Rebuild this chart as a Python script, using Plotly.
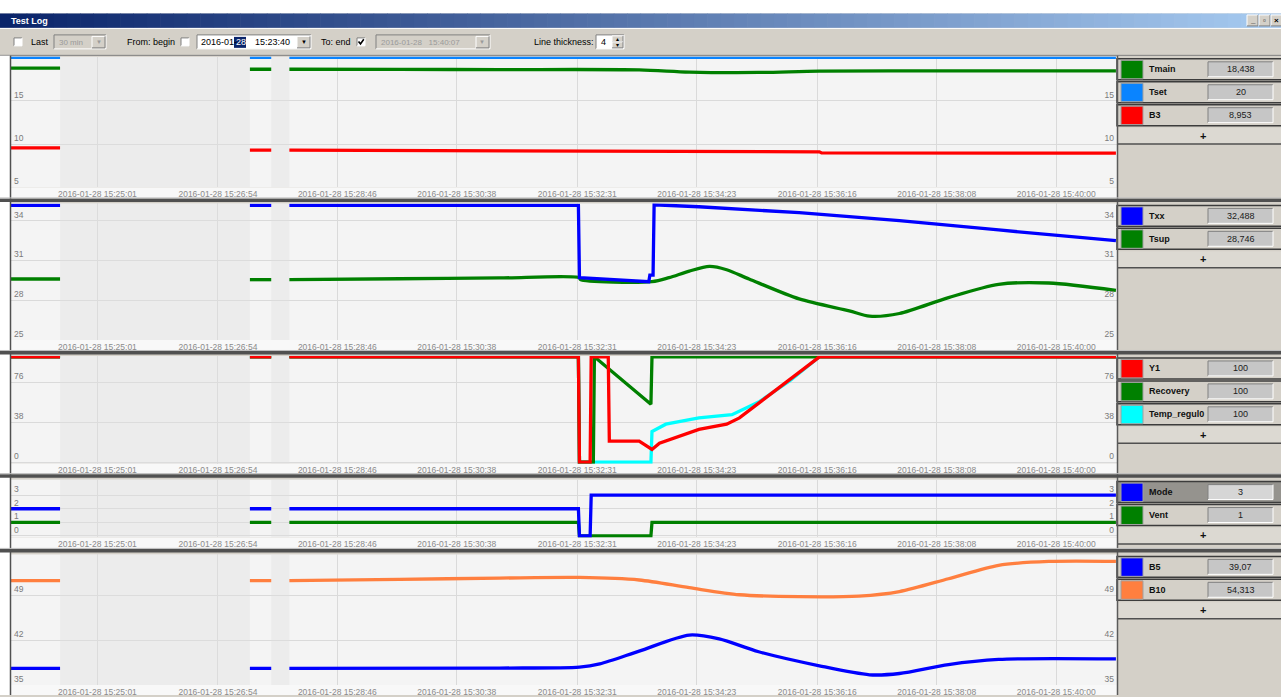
import plotly.graph_objects as go

W, H = 1281, 697
DAY = "2016-01-28 "
UI_FONT = "Liberation Sans"

# ---------------- time axis ----------------
X_RANGE = ["15:23:40", "15:40:57"]
TICK_TIMES = ["15:25:01", "15:26:54", "15:28:46", "15:30:38", "15:32:31",
              "15:34:23", "15:36:16", "15:38:08", "15:40:00"]
# intervals without samples
GAP_SPANS = [("15:24:26", "15:27:24"), ("15:27:44", "15:28:01")]

# ---------------- panel 1 ----------------
tmain_t = ["15:23:40", "15:24:26", "15:25:00", "15:27:24", "15:27:44", "15:27:50",
           "15:28:01", "15:29:44", "15:31:18", "15:33:29", "15:34:16", "15:35:21",
           "15:36:18", "15:38:19", "15:40:56"]
tmain_v = [18.75, 18.75, None, 18.62, 18.62, None,
           18.62, 18.60, 18.58, 18.55, 18.30, 18.25,
           18.40, 18.43, 18.438]

tset_t = ["15:23:40", "15:24:26", "15:25:00", "15:27:24", "15:27:44", "15:27:50",
          "15:28:01", "15:40:56"]
tset_v = [20, 20, None, 20, 20, None, 20, 20]

b3_t = ["15:23:40", "15:24:26", "15:25:00", "15:27:24", "15:27:44", "15:27:50",
        "15:28:01", "15:31:18", "15:33:29", "15:36:18", "15:36:20", "15:40:56"]
b3_v = [9.55, 9.55, None, 9.30, 9.30, None,
        9.30, 9.25, 9.20, 9.10, 8.98, 8.953]

# ---------------- panel 2 ----------------
txx_t = ["15:23:40", "15:24:26", "15:25:00", "15:27:24", "15:27:44", "15:27:50",
         "15:28:01", "15:32:32", "15:32:33", "15:33:38", "15:33:39", "15:33:42",
         "15:33:43", "15:34:25", "15:35:59", "15:37:33", "15:39:06", "15:40:56"]
txx_v = [35.15, 35.15, None, 35.15, 35.15, None,
         35.15, 35.15, 29.70, 29.40, 29.90, 29.90,
         35.20, 35.05, 34.60, 34.00, 33.30, 32.488]

tsup_t = ["15:23:40", "15:24:26", "15:25:00", "15:27:24", "15:27:44", "15:27:50",
          "15:28:01", "15:29:44", "15:31:18", "15:32:33", "15:32:34", "15:33:41",
          "15:33:57", "15:34:16", "15:34:35", "15:34:51", "15:35:12", "15:35:59",
          "15:36:46", "15:37:05", "15:37:33", "15:38:19", "15:39:06", "15:39:53",
          "15:40:56"]
tsup_v = [29.60, 29.60, None, 29.55, 29.55, None,
          29.55, 29.62, 29.68, 29.70, 29.55, 29.40,
          29.70, 30.20, 30.55, 30.30, 29.60, 28.10,
          27.20, 26.80, 27.00, 28.20, 29.20, 29.30,
          28.746]

# ---------------- panel 3 ----------------
y1_t = ["15:23:40", "15:24:26", "15:25:00", "15:27:24", "15:27:44", "15:27:50",
        "15:28:01", "15:32:32", "15:32:33", "15:32:43", "15:32:44", "15:33:00",
        "15:33:01", "15:33:29", "15:33:41", "15:33:48", "15:34:25", "15:34:51",
        "15:35:03", "15:35:50", "15:36:18", "15:40:56"]
y1_v = [100, 100, None, 100, 100, None,
        100, 100, 0, 0, 100, 100,
        20, 20, 12, 18, 31, 36,
        42, 78, 100, 100]

recovery_t = ["15:23:40", "15:24:26", "15:25:00", "15:27:24", "15:27:44", "15:27:50",
              "15:28:01", "15:32:32", "15:32:33", "15:32:46", "15:32:47", "15:33:40",
              "15:33:41", "15:40:56"]
recovery_v = [100, 100, None, 100, 100, None,
              100, 100, 0, 0, 100, 55,
              100, 100]

tempreg_t = ["15:23:40", "15:24:26", "15:25:00", "15:27:24", "15:27:44", "15:27:50",
             "15:28:01", "15:32:32", "15:32:33", "15:33:40", "15:33:41", "15:33:54",
             "15:34:25", "15:34:56", "15:35:21", "15:35:50", "15:36:18", "15:40:56"]
tempreg_v = [100, 100, None, 100, 100, None,
             100, 100, 0, 0, 29, 36,
             42, 45, 57, 77, 100, 100]

# ---------------- panel 4 ----------------
mode_t = ["15:23:40", "15:24:26", "15:25:00", "15:27:24", "15:27:44", "15:27:50",
          "15:28:01", "15:32:32", "15:32:33", "15:32:43", "15:32:44", "15:40:56"]
mode_v = [2, 2, None, 2, 2, None,
          2, 2, 0, 0, 3, 3]

vent_t = ["15:23:40", "15:24:26", "15:25:00", "15:27:24", "15:27:44", "15:27:50",
          "15:28:01", "15:32:32", "15:32:33", "15:33:40", "15:33:41", "15:40:56"]
vent_v = [1, 1, None, 1, 1, None,
          1, 1, 0, 0, 1, 1]

# ---------------- panel 5 ----------------
b5_t = ["15:23:40", "15:24:26", "15:25:00", "15:27:24", "15:27:44", "15:27:50",
        "15:28:01", "15:31:18", "15:32:33", "15:32:52", "15:33:29", "15:34:16",
        "15:34:44", "15:35:21", "15:36:18", "15:37:05", "15:37:33", "15:38:19",
        "15:39:06", "15:40:56"]
b5_v = [37.6, 37.6, None, 37.6, 37.6, None,
        37.6, 37.65, 37.8, 38.3, 40.3, 42.8,
        42.2, 40.2, 38.0, 36.6, 36.8, 38.2,
        39.0, 39.07]

b10_t = ["15:23:40", "15:24:26", "15:25:00", "15:27:24", "15:27:44", "15:27:50",
         "15:28:01", "15:29:44", "15:31:18", "15:32:33", "15:33:29", "15:34:16",
         "15:35:03", "15:35:59", "15:36:55", "15:37:33", "15:38:19", "15:39:06",
         "15:39:53", "15:40:56"]
b10_v = [51.3, 51.3, None, 51.3, 51.3, None,
         51.3, 51.5, 51.7, 51.8, 51.4, 50.2,
         49.1, 48.8, 48.9, 49.6, 51.6, 53.7,
         54.3, 54.313]

# ---------------- panel layout (pixel rows) ----------------
PANELS = [
    dict(top=57, bottom=188, strip=199, rng=[5, 20.05], ticks=[5, 10, 15],
         series=[("Tmain", "#008000", tmain_t, tmain_v),
                 ("Tset", "#0a84ff", tset_t, tset_v),
                 ("B3", "#ff0000", b3_t, b3_v)]),
    dict(top=204, bottom=341, strip=352, rng=[25, 35.3], ticks=[25, 28, 31, 34],
         series=[("Txx", "#0000ff", txx_t, txx_v),
                 ("Tsup", "#008000", tsup_t, tsup_v)]),
    dict(top=357, bottom=465, strip=475, rng=[-1.5, 100.8], ticks=[0, 38, 76],
         series=[("Y1", "#ff0000", y1_t, y1_v),
                 ("Recovery", "#008000", recovery_t, recovery_v),
                 ("Temp_regul0", "#00ffff", tempreg_t, tempreg_v)]),
    dict(top=481, bottom=539, strip=550, rng=[-0.12, 4.15], ticks=[0, 1, 2, 3],
         series=[("Mode", "#0000ff", mode_t, mode_v),
                 ("Vent", "#008000", vent_t, vent_v)], highlight="Mode"),
    dict(top=556, bottom=687, strip=697, rng=[35, 55.4], ticks=[35, 42, 49],
         series=[("B5", "#0000ff", b5_t, b5_v),
                 ("B10", "#ff7f3f", b10_t, b10_v)]),
]
# drawing order inside each panel (last on top)
DRAW_ORDER = [["Tmain", "Tset", "B3"], ["Tsup", "Txx"], ["Temp_regul0", "Recovery", "Y1"],
              ["Vent", "Mode"], ["B5", "B10"]]
# slowly varying signals are drawn as smooth curves
SMOOTH = {"Tmain", "Tsup", "B5", "B10"}

PLOT_X0, PLOT_X1 = 11, 1117


def ts(t):
    return DAY + t


def yy(y):
    return 1 - y / H


shapes, notes = [], []


def rect(x0, y0, x1, y1, fill, line=None, lw=1, layer="above"):
    shapes.append(dict(type="rect", xref="paper", yref="paper",
                       x0=x0 / W, x1=x1 / W, y0=yy(y1), y1=yy(y0),
                       fillcolor=fill, layer=layer,
                       line=dict(color=line if line else "rgba(0,0,0,0)",
                                 width=lw if line else 0)))


def seg(x0, y0, x1, y1, color, w=1):
    shapes.append(dict(type="line", xref="paper", yref="paper",
                       x0=x0 / W, x1=x1 / W, y0=yy(y0), y1=yy(y1),
                       line=dict(color=color, width=w), layer="above"))


def sunken(x0, y0, x1, y1, fill):
    rect(x0, y0, x1, y1, fill)
    seg(x0, y0, x1, y0, "#808080")
    seg(x0, y0, x0, y1, "#808080")
    seg(x0, y1, x1, y1, "#ffffff")
    seg(x1, y0, x1, y1, "#ffffff")


def raised(x0, y0, x1, y1, fill="#d4d0c8"):
    rect(x0, y0, x1, y1, fill)
    seg(x0, y0, x1, y0, "#ffffff")
    seg(x0, y0, x0, y1, "#ffffff")
    seg(x0, y1, x1, y1, "#808080")
    seg(x1, y0, x1, y1, "#808080")


def text(x, y, s, size=9, color="#000000", anchor="left", bold=False, family=UI_FONT):
    notes.append(dict(xref="paper", yref="paper", x=x / W, y=yy(y),
                      text=f"<b>{s}</b>" if bold else s, showarrow=False,
                      xanchor=anchor, yanchor="middle", borderpad=0,
                      font=dict(size=size, color=color, family=family)))


def fmt_value(v):
    s = f"{v:.3f}".rstrip("0").rstrip(".")
    return s.replace(".", ",")


fig = go.Figure()
layout = dict(width=W, height=H, margin=dict(l=0, r=0, t=0, b=0), autosize=False,
              paper_bgcolor="#d4d0c8", plot_bgcolor="#f4f4f4", showlegend=False,
              hovermode=False)

for i, p in enumerate(PANELS):
    n = i + 1
    xa, ya, yr = f"x{n}", f"y{n}", f"y{n + 5}"
    dom_y = [yy(p["bottom"]), yy(p["top"])]
    layout[f"xaxis{n}"] = dict(
        domain=[PLOT_X0 / W, PLOT_X1 / W], anchor=ya, type="date",
        range=[ts(X_RANGE[0]), ts(X_RANGE[1])],
        tickvals=[ts(t) for t in TICK_TIMES], tickformat="%Y-%m-%d %H:%M:%S",
        ticks="", showgrid=True, gridcolor="#dadada", gridwidth=1,
        zeroline=False, showline=False,
        tickfont=dict(size=8.5, color="#8a8a8a", family=UI_FONT),
        **({} if n == 1 else {"matches": "x"}))
    common_y = dict(range=p["rng"], tickvals=p["ticks"], ticks="",
                    zeroline=False, showline=False,
                    ticklabelposition="inside top",
                    tickfont=dict(size=8.5, color="#7a7a7a", family=UI_FONT))
    layout[f"yaxis{n}"] = dict(domain=dom_y, anchor=xa, showgrid=True,
                               gridcolor="#dadada", gridwidth=1, **common_y)
    layout[f"yaxis{n + 5}"] = dict(overlaying=ya, anchor=xa, side="right",
                                   showgrid=False, matches=ya, **common_y)

    # dotted no-data intervals
    hx, hy = [], []
    lo, hi = p["rng"]
    for a, b in GAP_SPANS:
        hx += [ts(a), ts(a), ts(b), ts(b), ts(a), None]
        hy += [lo, hi, hi, lo, lo, None]
    fig.add_trace(go.Scatter(x=hx, y=hy, xaxis=xa, yaxis=ya, mode="lines",
                             line=dict(width=0), fill="toself",
                             fillpattern=dict(shape=".", size=2, solidity=0.45,
                                              fgcolor="rgba(190,190,190,0.5)",
                                              bgcolor="rgba(232,232,232,0.3)"),
                             hoverinfo="skip"))

    by_name = {s[0]: s for s in p["series"]}
    order = DRAW_ORDER[i]
    for k, name in enumerate(order):
        _, color, t, v = by_name[name]
        on_right = (k == len(order) - 1)
        fig.add_trace(go.Scatter(x=[ts(x) for x in t], y=v, name=name,
                                 xaxis=xa, yaxis=yr if on_right else ya,
                                 mode="lines", connectgaps=False,
                                 line=dict(color=color, width=3.3,
                                           shape="spline" if name in SMOOTH else "linear",
                                           smoothing=0.8),
                                 hoverinfo="skip"))

    # label strip under the plot
    rect(PLOT_X0, p["bottom"], PLOT_X1, p["strip"], "#f8f8f8", layer="below")

    # legend block
    legend_top = p["top"] + 2
    for r, (name, color, t, v) in enumerate(p["series"]):
        r0 = legend_top + 23 * r
        r1 = r0 + 21
        hl = p.get("highlight") == name
        rect(1117, r0, 1283, r1, "#95938e" if hl else "#d4d0c8",
             line="#3c3c3c", lw=1.5)
        rect(1121, r0 + 1.5, 1143, r1 - 1, color, line="#a0a0a0", lw=1)
        text(1148, (r0 + r1) / 2, name, size=9, bold=True, color="#101010")
        sunken(1208, r0 + 3, 1273, r1 - 3, "#d6d6d6" if hl else "#c6c6c6")
        last = [x for x in v if x is not None][-1]
        text(1240.5, (r0 + r1) / 2, fmt_value(last), size=9, anchor="center",
             color="#202020")
    p0 = legend_top + 23 * len(p["series"])
    rect(1117, p0, 1283, p0 + 16, "#dcd9d2")
    seg(1117, p0 + 16.5, 1283, p0 + 16.5, "#505050", 1.5)
    text(1203, p0 + 8, "+", size=11, anchor="center", bold=True, color="#101010")

# ---------------- window chrome ----------------
rect(0, 0, W, 13.5, "#ffffff")
N = 96
c0, c1 = (10, 36, 106), (166, 202, 240)
for k in range(N):
    f = k / (N - 1)
    col = "rgb(%d,%d,%d)" % tuple(round(a + (b - a) * f) for a, b in zip(c0, c1))
    rect(k * W / N, 13.5, (k + 1) * W / N + 0.6, 28, col)
text(10, 21, "Test Log", size=9, color="#ffffff", bold=True)
for bx, glyph in [(1247, "_"), (1259, "\u25ab"), (1271, "\u00d7")]:
    raised(bx, 15, bx + 11, 26)
    text(bx + 5.5, 20.5, glyph, size=8, anchor="center", bold=True)

# toolbar
seg(0, 28.5, W, 28.5, "#ffffff")
seg(0, 55.5, W, 55.5, "#808080", 1)

sunken(14, 38, 22, 46, "#ffffff")
text(30, 42.5, "Last", size=9)
sunken(54, 35, 106, 49, "#d4d0c8")
text(58, 42.5, "30 min", size=8, color="#9a9a9a")
raised(92, 36.5, 105, 48)
text(98.5, 42.5, "\u25bc", size=6, anchor="center", color="#9a9a9a")

text(126, 42.5, "From: begin", size=9)
sunken(181, 38, 189, 46, "#ffffff")
sunken(197, 35, 311, 49, "#ffffff")
text(200, 42.5, "2016-01-", size=9)
rect(234, 37, 246, 48, "#0a246a")
text(235, 42.5, "28", size=9, color="#ffffff")
text(254, 42.5, "15:23:40", size=9)
raised(297, 36.5, 310, 48)
text(303.5, 42.5, "\u25bc", size=6, anchor="center")

text(320, 42.5, "To: end", size=9)
sunken(357, 38, 365, 46, "#ffffff")
shapes.append(dict(type="path", xref="paper", yref="paper", layer="above",
                   path="M %f %f L %f %f L %f %f" % (358.5 / W, yy(41.5), 360.5 / W, yy(44),
                                                    363.8 / W, yy(39.3)),
                   line=dict(color="#000000", width=1.6)))
sunken(376, 35, 490, 49, "#d4d0c8")
text(380, 42.5, "2016-01-28   15:40:07", size=8, color="#9a9a9a")
raised(476, 36.5, 489, 48)
text(482.5, 42.5, "\u25bc", size=6, anchor="center", color="#9a9a9a")

text(533, 42.5, "Line thickness:", size=9)
sunken(596, 35, 624, 49, "#ffffff")
text(600, 42.5, "4", size=9)
raised(612, 36, 623, 42)
raised(612, 42, 623, 48)
text(617.5, 39, "\u25b4", size=6, anchor="center")
text(617.5, 45, "\u25be", size=6, anchor="center")

# frame: left margin, plot/legend divider, panel separators
rect(0, 56, 10, H, "#ffffff")
seg(10.5, 56, 10.5, H, "#505050", 1.5)
seg(1117.5, 56, 1117.5, H, "#5a5a5a", 1.5)
for y0 in [199, 352, 475.5, 550.5]:
    rect(0, y0, W, y0 + 3.5, "#505050")
    seg(0, y0 - 0.5, W, y0 - 0.5, "#bdbdbd", 1)

layout["shapes"] = shapes
layout["annotations"] = notes
fig.update_layout(**layout)
fig.write_html("out.html")
